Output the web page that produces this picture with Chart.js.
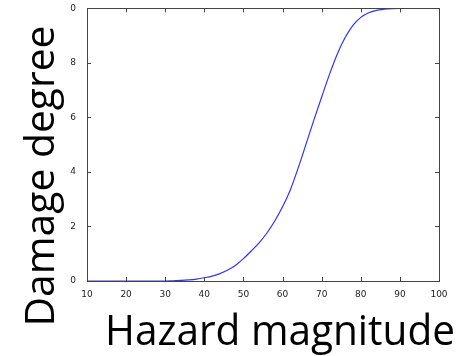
<!DOCTYPE html>
<html>
<head>
<meta charset="utf-8">
<script src="https://cdn.jsdelivr.net/npm/chart.js@4/dist/chart.umd.min.js"></script>
<style>
  html, body { margin: 0; padding: 0; background: #fff; }
  #wrap { width: 467px; height: 356px; position: relative; }
</style>
</head>
<body>
<div id="wrap"><canvas id="myChart" width="467" height="356"></canvas></div>
<script>
// values
var hazard = [10, 20, 30, 32, 34, 36, 38, 40, 42, 44, 46, 48, 50, 52, 54, 56, 58, 60, 62, 64, 66, 68, 70, 72, 74, 76, 78, 80, 82, 84, 86, 88, 90, 100];
var damage = [0, 0, 0, 0.001, 0.002, 0.004, 0.007, 0.012, 0.018, 0.027, 0.040, 0.058, 0.082, 0.11, 0.14, 0.176, 0.22, 0.272, 0.335, 0.415, 0.502, 0.59, 0.675, 0.758, 0.833, 0.893, 0.938, 0.967, 0.984, 0.993, 0.997, 0.999, 1, 1];
var xTicks = [10, 20, 30, 40, 50, 60, 70, 80, 90, 100];
var yTickLabels = ['0', '2', '4', '6', '8', '0'];
var xTitle = 'Hazard magnitude';
var yTitle = 'Damage degree';

var points = hazard.map(function (h, i) { return { x: h, y: damage[i] }; });

// draw text centred at (0,0) baseline, squeezed to a given width
function fitText(c, text, size, width) {
    c.font = size + 'px "Open Sans"';
    var w = c.measureText(text).width;
    c.save();
    c.scale(width / w, 1);
    c.fillText(text, 0, 0);
    c.restore();
}

// matplotlib-like frame with inward ticks, plus big slide titles
var framePlugin = {
    id: 'frame',
    afterDraw: function (chart) {
        var c = chart.ctx, a = chart.chartArea;
        var xs = chart.scales.x, ys = chart.scales.y;
        c.save();
        c.strokeStyle = '#444';
        c.lineWidth = 1;
        c.strokeRect(Math.round(a.left) + 0.5, Math.round(a.top) + 0.5, Math.round(a.right - a.left), Math.round(a.bottom - a.top));
        c.beginPath();
        xTicks.forEach(function (t) {
            var px = Math.round(xs.getPixelForValue(t)) + 0.5;
            c.moveTo(px, a.bottom); c.lineTo(px, a.bottom - 4);
            c.moveTo(px, a.top); c.lineTo(px, a.top + 4);
        });
        yTickLabels.forEach(function (l, i) {
            var py = Math.round(ys.getPixelForValue(i * 0.2)) + 0.5;
            c.moveTo(a.left, py); c.lineTo(a.left + 4, py);
            c.moveTo(a.right, py); c.lineTo(a.right - 4, py);
        });
        c.stroke();

        c.fillStyle = '#000';
        c.textBaseline = 'alphabetic';
        c.textAlign = 'center';
        c.save();
        c.translate(280, 345);
        fitText(c, xTitle, 42, 350);
        c.restore();
        c.save();
        c.translate(54, 176);
        c.rotate(-Math.PI / 2);
        fitText(c, yTitle, 40, 301);
        c.restore();
        c.restore();
    }
};

var ctx = document.getElementById('myChart').getContext('2d');

var myChart = new Chart(ctx, {
    type: 'line',
    data: {
        datasets: [{
            data: points,
            borderColor: 'rgb(50, 50, 255)',
            borderWidth: 1.2,
            pointRadius: 0,
            cubicInterpolationMode: 'monotone',
            fill: false
        }]
    },
    options: {
        responsive: false,
        animation: false,
        layout: { padding: { top: 8, right: 28, left: 0, bottom: 0 } },
        plugins: { legend: { display: false }, tooltip: { enabled: false } },
        scales: {
            x: {
                type: 'linear',
                min: 10,
                max: 100,
                afterBuildTicks: function (s) { s.ticks = xTicks.map(function (v) { return { value: v }; }); },
                afterFit: function (s) { s.height = 75; },
                grid: { display: false },
                border: { display: false },
                ticks: { padding: 1, color: '#222', font: { family: 'DejaVu Sans', size: 9, lineHeight: 1 }, maxRotation: 0 }
            },
            y: {
                min: 0,
                max: 1,
                afterBuildTicks: function (s) { s.ticks = yTickLabels.map(function (l, i) { return { value: i * 0.2 }; }); },
                afterFit: function (s) { s.width = 87; },
                grid: { display: false },
                border: { display: false },
                ticks: {
                    padding: 3,
                    color: '#222',
                    font: { family: 'DejaVu Sans', size: 9 },
                    callback: function (v, i) { return yTickLabels[i]; }
                }
            }
        }
    },
    plugins: [framePlugin]
});
</script>
</body>
</html>
